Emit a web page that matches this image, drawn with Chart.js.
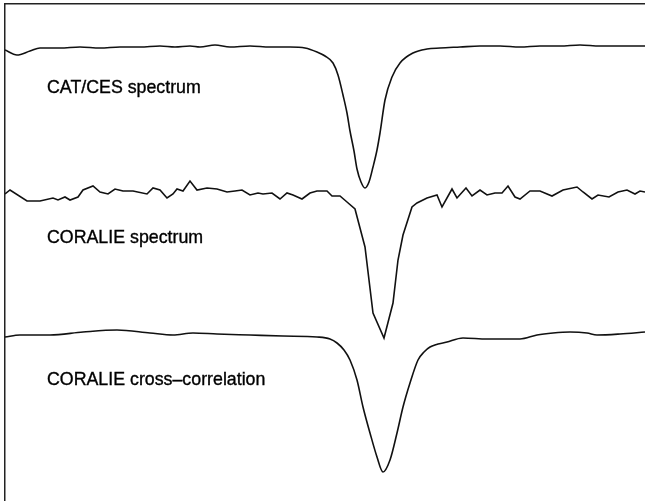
<!DOCTYPE html>
<html>
<head>
<meta charset="utf-8">
<style>
  html, body { margin: 0; padding: 0; background: #fff; }
  #wrap { width: 645px; height: 501px; }
</style>
<script src="https://cdn.jsdelivr.net/npm/chart.js@4/dist/chart.umd.min.js"></script>
</head>
<body>
<div id="wrap"><canvas id="c" width="645" height="501"></canvas></div>
<script>
// Line profiles, stacked with vertical offsets (arbitrary flux units)
const catcesX = [0,12,25,35,55,75,95,115,135,155,170,185,195,210,225,245,265,285,300,312,320,328,333,338,342,345,349,352,356,360,364,368,372,375,380,387,395,408,422,435,455,475,495,515,535,555,575,595,615,640];
const catcesY = [451,446,450,453,453,454,453,454,454,455,454,455,454,456,454,455,454,454,453,449,445,438,426,406,388,370,350,332,319,313,319,334,351,368,401,424,438,448,452,453,454,455,455,454,455,455,456,455,455,455];

const coralieX = [0,5,22,35,48,53,60,65,73,78,88,95,103,110,118,128,142,148,155,162,168,172,178,185,192,202,212,222,230,237,245,253,258,267,275,282,288,297,305,312,322,327,335,342,350,360,368,379,388,393,398,407,412,422,432,437,447,452,461,467,475,482,490,497,503,510,515,525,535,547,558,572,578,587,593,604,613,622,630,635,640];
const coralieY = [307,311,300,300,303,301,304,301,304,311,315,309,307,312,310,310,307,313,311,303,307,312,310,320,311,313,312,309,310,311,306,308,307,308,302,308,306,302,308,310,310,305,305,299,292,254,188,163,198,241,266,294,298,303,306,294,312,303,313,305,311,306,308,308,315,304,302,310,310,305,311,314,309,302,306,304,309,311,307,310,309];

const ccfX = [0,15,45,78,112,145,168,188,212,245,278,312,325,332,339,345,352,358,365,372,378,385,392,398,405,413,419,425,442,458,482,515,532,548,565,582,592,615,640];
const ccfY = [164,166,166,169,171,168,166,168,167,166,165,164,162,158,151,141,121,94,68,44,29,41,68,94,118,141,149,154,159,163,162,162,166,168,169,168,166,167,169];

const seriesLabels = ['CAT/CES spectrum', 'CORALIE spectrum', 'CORALIE cross\u2013correlation'];

const toPoints = (xs, ys) => xs.map((x, i) => ({ x: x, y: ys[i] }));

// Caption for each profile, placed in data coordinates just under its continuum
const captionPlugin = {
  id: 'captions',
  afterDatasetsDraw(chart) {
    const { ctx, scales } = chart;
    const anchors = [[42, 413], [42, 263], [42, 121]];
    ctx.save();
    ctx.fillStyle = '#000';
    ctx.strokeStyle = '#000';
    ctx.lineWidth = 0.35;
    ctx.font = '17.8px "Liberation Sans", Arial, sans-serif';
    ctx.textBaseline = 'middle';
    seriesLabels.forEach((t, i) => {
      const px = scales.x.getPixelForValue(anchors[i][0]);
      const py = scales.y.getPixelForValue(anchors[i][1]);
      ctx.fillText(t, px, py);
      ctx.strokeText(t, px, py);
    });
    ctx.restore();
  }
};

const lineStyle = { borderColor: '#111', borderWidth: 1.6, pointRadius: 0, fill: false };

new Chart(document.getElementById('c'), {
  type: 'line',
  data: {
    datasets: [
      Object.assign({ label: seriesLabels[0], data: toPoints(catcesX, catcesY), cubicInterpolationMode: 'monotone' }, lineStyle),
      Object.assign({ label: seriesLabels[1], data: toPoints(coralieX, coralieY), tension: 0 }, lineStyle),
      Object.assign({ label: seriesLabels[2], data: toPoints(ccfX, ccfY), cubicInterpolationMode: 'monotone' }, lineStyle)
    ]
  },
  options: {
    responsive: false,
    animation: false,
    layout: { padding: { left: 5, top: 4, right: 0, bottom: 0 } },
    plugins: { legend: { display: false }, tooltip: { enabled: false } },
    scales: {
      x: {
        type: 'linear', position: 'top', min: 0, max: 640,
        ticks: { display: false },
        grid: { display: false, drawTicks: false },
        border: { display: true, color: '#222', width: 1.5 }
      },
      y: {
        type: 'linear', min: 0, max: 497,
        ticks: { display: false },
        grid: { display: false, drawTicks: false },
        border: { display: true, color: '#222', width: 1.5 }
      }
    }
  },
  plugins: [captionPlugin]
});
</script>
</body>
</html>
